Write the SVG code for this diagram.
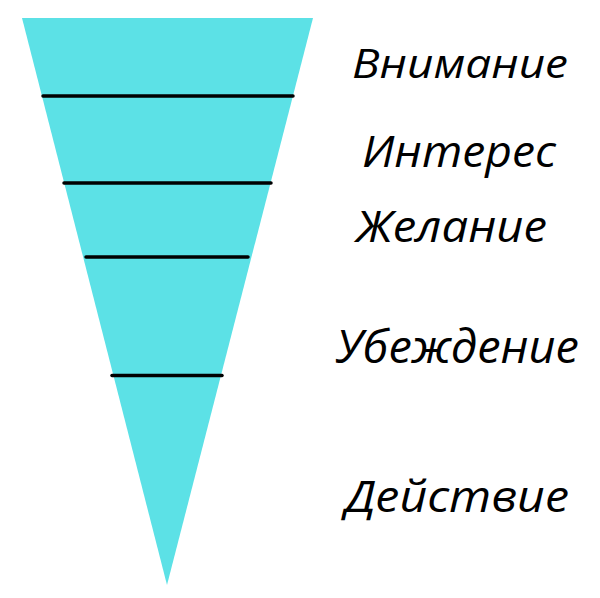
<svg xmlns="http://www.w3.org/2000/svg" width="600" height="598" viewBox="0 0 600 598">
<style>
.lbl{font-family:"Open Sans","Noto Sans",sans-serif;font-style:italic;fill:#000}
.sep{stroke:#000;stroke-width:3.5;stroke-linecap:round}
</style>
<rect width="600" height="598" fill="#fff"/>
<g id="funnel">
<polygon points="22,18 313,18 167,585" fill="#5CE1E6"/>
</g>
<g id="connectors">
<line class="sep" x1="43" y1="96" x2="293" y2="96"/>
<line class="sep" x1="64" y1="183" x2="271" y2="183"/>
<line class="sep" x1="86" y1="257" x2="248" y2="257"/>
<line class="sep" x1="112" y1="375.5" x2="222" y2="375.5"/>
</g>
<g id="label-attention"><text class="lbl" x="352" y="78" font-size="40" textLength="216" lengthAdjust="spacingAndGlyphs">Внимание</text></g>
<g id="label-interest"><text class="lbl" x="362" y="167" font-size="43" textLength="194" lengthAdjust="spacingAndGlyphs">Интерес</text></g>
<g id="label-desire"><text class="lbl" x="356" y="242" font-size="43" textLength="191" lengthAdjust="spacingAndGlyphs">Желание</text></g>
<g id="label-conviction"><text class="lbl" x="336" y="363" font-size="45" textLength="243" lengthAdjust="spacingAndGlyphs">Убеждение</text></g>
<g id="label-action"><text class="lbl" x="345" y="512" font-size="43" textLength="224" lengthAdjust="spacingAndGlyphs">Действие</text></g>
</svg>
